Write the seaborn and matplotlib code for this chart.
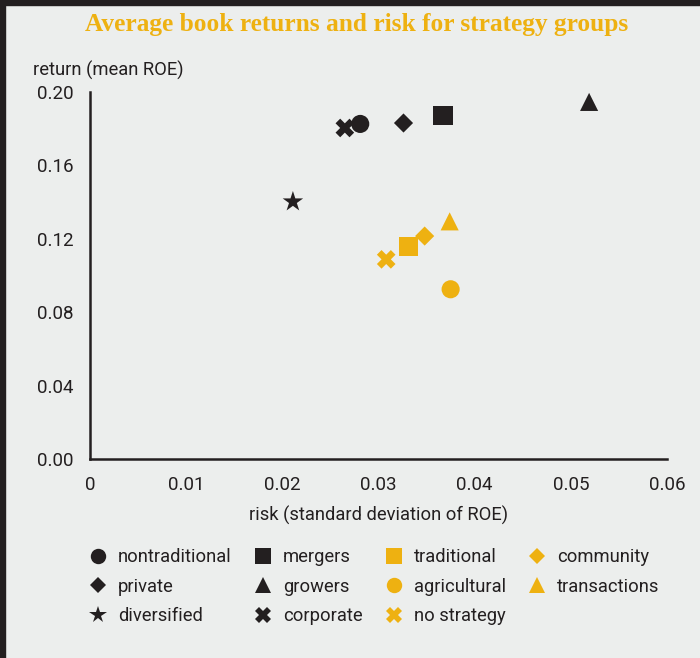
import numpy as np
import pandas as pd
import matplotlib
matplotlib.use('Agg')
import matplotlib.pyplot as plt
from matplotlib.lines import Line2D
from matplotlib.patches import Rectangle
import seaborn as sns

# data, listed in legend (column) order
groups = ['nontraditional', 'private', 'diversified',
          'mergers', 'growers', 'corporate',
          'traditional', 'agricultural', 'no strategy',
          'community', 'transactions']
risk = [0.0281, 0.0326, 0.0211,
        0.0367, 0.0519, 0.0265,
        0.0331, 0.0375, 0.0308,
        0.0348, 0.0374]
ret = [0.1826, 0.1831, 0.1402,
       0.1871, 0.1946, 0.1804,
       0.1157, 0.0925, 0.1088,
       0.1215, 0.1295]
shade = ['dark', 'dark', 'dark',
         'dark', 'dark', 'dark',
         'gold', 'gold', 'gold',
         'gold', 'gold']
marker_of = {'nontraditional': 'o', 'private': 'D', 'diversified': '*',
             'mergers': 's', 'growers': '^', 'corporate': 'X',
             'traditional': 's', 'agricultural': 'o', 'no strategy': 'X',
             'community': 'D', 'transactions': '^'}
size_of = {'o': 170, 'D': 95, '*': 240, 's': 190, '^': 170, 'X': 180}
yticks = [0.0, 0.04, 0.08, 0.12, 0.16, 0.20]
xticks = [0, 0.01, 0.02, 0.03, 0.04, 0.05, 0.06]
xticklabels = ['0', '0.01', '0.02', '0.03', '0.04', '0.05', '0.06']

DARK = '#231f20'
GOLD = '#eeb111'
BG = '#eceeed'
colors = {'dark': DARK, 'gold': GOLD}

df = pd.DataFrame({'group': groups, 'risk': risk, 'ret': ret, 'shade': shade})
df['color'] = df['shade'].map(colors)

sns.set_style('white')
plt.rcParams['font.family'] = ['Roboto', 'DejaVu Sans']
FS = 13.2

fig = plt.figure(figsize=(7, 6.58), dpi=100, facecolor=BG)
ax = fig.add_axes([90/700, 1-459/658, 577/700, 367/658])
ax.set_facecolor(BG)

sns.scatterplot(data=df, x='risk', y='ret', hue='group', style='group',
                palette=dict(zip(df['group'], df['color'])),
                markers=marker_of, size='group',
                sizes={g: size_of[marker_of[g]] for g in groups},
                linewidth=0, legend=False, ax=ax, zorder=3, clip_on=False)

ax.set_xlim(0, 0.06)
ax.set_ylim(0, 0.20)
ax.set_xticks(xticks)
ax.set_xticklabels(xticklabels)
ax.set_yticks(yticks)
ax.set_yticklabels([f'{v:.2f}' for v in yticks])
ax.set_xlabel('risk (standard deviation of ROE)', fontsize=FS, color=DARK, labelpad=9)
ax.set_ylabel('')
for s in ['top', 'right']:
    ax.spines[s].set_visible(False)
for s in ['left', 'bottom']:
    ax.spines[s].set_color(DARK)
    ax.spines[s].set_linewidth(1.8)
ax.tick_params(direction='in', length=4, width=1.5, color=DARK,
               labelsize=13.5, labelcolor=DARK, pad=12)
ax.tick_params(axis='y', pad=12)

fig.text(33/700, 1-70/658, 'return (mean ROE)', fontsize=FS, color=DARK,
         ha='left', va='center')
fig.text(357/700, 1-24/658, 'Average book returns and risk for strategy groups',
         fontsize=18.3, color=GOLD, fontweight='bold', family='Liberation Serif',
         ha='center', va='center')

# frame edges at top and left
fig.patches.append(Rectangle((0, 1-5/658), 1, 5/658, transform=fig.transFigure,
                             color=DARK, zorder=10))
fig.patches.append(Rectangle((0, 0), 5/700, 1, transform=fig.transFigure,
                             color=DARK, zorder=10))

handles = []
for g, c in zip(groups, df['color']):
    m = marker_of[g]
    handles.append(Line2D([], [], linestyle='', marker=m, color=c,
                          markeredgewidth=0,
                          markersize=np.sqrt(size_of[m]) * 0.85))
fig.legend(handles, groups, ncol=4, loc='upper left',
           bbox_to_anchor=(72/700, 1-532/658), frameon=False,
           fontsize=FS, handlelength=1.0, handletextpad=0.6,
           columnspacing=1.2, labelspacing=0.62, labelcolor=DARK)

fig.savefig('out.png', dpi=100, facecolor=BG)
